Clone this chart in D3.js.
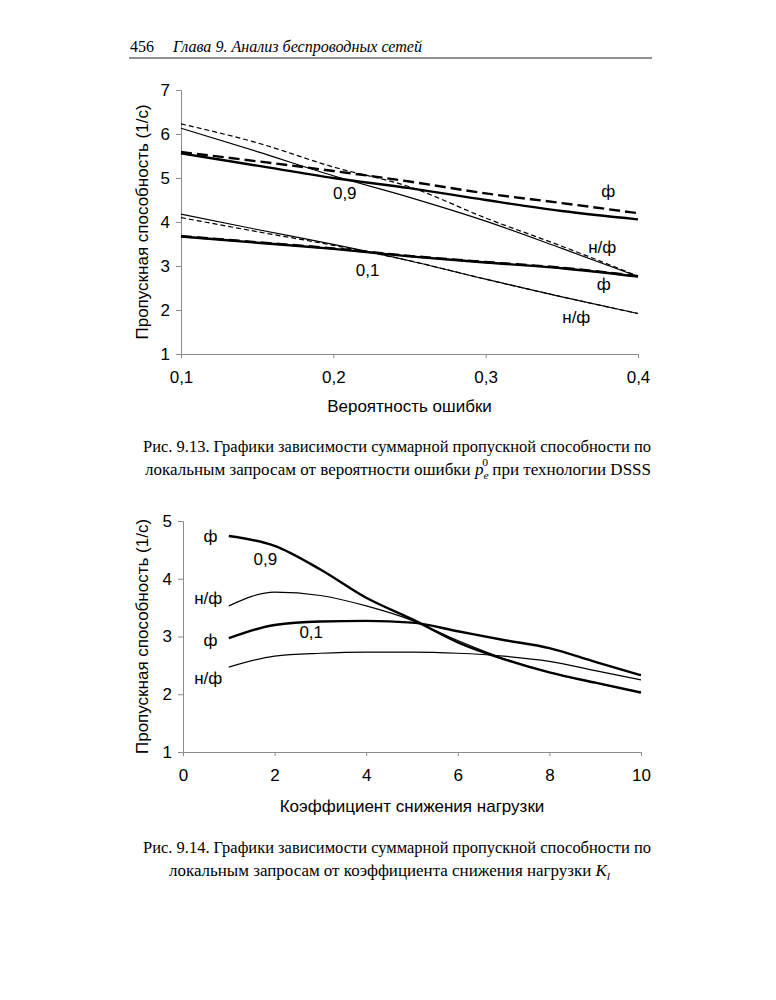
<!DOCTYPE html>
<html><head><meta charset="utf-8">
<script src="https://cdn.jsdelivr.net/npm/d3@7"></script>
<style>
body{margin:0;background:#fff;}
svg{display:block;}
</style></head>
<body>
<svg id="page" width="776" height="1000"></svg>
<script>
// ---------- Chart 1 data (Рис. 9.13) ----------
const errProb = [0.1, 0.15, 0.2, 0.25, 0.3, 0.35, 0.4];
const f09Solid  = [5.56, 5.28, 5.00, 4.77, 4.50, 4.25, 4.06];
const f09Dash   = [5.59, 5.38, 5.16, 4.92, 4.65, 4.43, 4.20];
const nf09Solid = [6.13, 5.60, 5.05, 4.56, 4.02, 3.40, 2.76];
const nf09Dash  = [6.23, 5.80, 5.25, 4.80, 4.09, 3.45, 2.77];
const f01Solid  = [3.67, 3.53, 3.39, 3.22, 3.08, 2.95, 2.76];
const f01Dash   = [3.68, 3.54, 3.40, 3.23, 3.09, 2.96, 2.77];
const nf01Solid = [4.18, 3.83, 3.49, 3.12, 2.70, 2.30, 1.92];
const nf01Dash  = [4.10, 3.78, 3.47, 3.12, 2.70, 2.30, 1.92];
const xTicks1 = [0.1, 0.2, 0.3, 0.4];
const yTicks1 = [1, 2, 3, 4, 5, 6, 7];

// ---------- Chart 2 data (Рис. 9.14) ----------
const loadK = [1, 2, 3, 4, 5, 6, 7, 8, 9, 10];
const f09K  = [4.74, 4.57, 4.16, 3.67, 3.30, 2.90, 2.61, 2.38, 2.20, 2.03];
const nf09K = [3.53, 3.77, 3.71, 3.53, 3.28, 2.93, 2.62, 2.38, 2.20, 2.03];
const f01K  = [2.97, 3.20, 3.26, 3.27, 3.24, 3.09, 2.94, 2.80, 2.56, 2.33];
const nf01K = [2.47, 2.66, 2.71, 2.73, 2.73, 2.71, 2.66, 2.57, 2.41, 2.25];
const xTicks2 = [0, 2, 4, 6, 8, 10];
const yTicks2 = [1, 2, 3, 4, 5];

// ---------- texts ----------
const pageNum = "456";
const headerText = "Глава 9.  Анализ беспроводных сетей";
const yTitle = "Пропускная способность (1/с)";
const xTitle1 = "Вероятность ошибки";
const xTitle2 = "Коэффициент снижения нагрузки";

const svg = d3.select("#page");
const SANS = "'Liberation Sans', Arial, sans-serif";
const SERIF = "'Liberation Serif', 'Times New Roman', serif";
const comma = d => String(d).replace(".", ",");

// header
svg.append("text").attr("x", 130).attr("y", 52).attr("font-family", SERIF)
  .attr("font-size", 16).text(pageNum);
svg.append("text").attr("x", 173).attr("y", 52).attr("font-family", SERIF)
  .attr("font-style", "italic").attr("font-size", 16)
  .attr("textLength", 249).attr("lengthAdjust", "spacingAndGlyphs").text(headerText);
svg.append("line").attr("x1", 129).attr("x2", 652).attr("y1", 58).attr("y2", 58)
  .attr("stroke", "#222").attr("stroke-width", 1.2);

function drawChart(cfg) {
  const g = svg.append("g");
  const x = d3.scaleLinear().domain(cfg.xDomain).range(cfg.xRange);
  const y = d3.scaleLinear().domain(cfg.yDomain).range(cfg.yRange);

  const yAx = g.append("g").attr("transform", `translate(${cfg.xRange[0]},0)`)
    .call(d3.axisLeft(y).tickValues(cfg.yTicks).tickSize(5).tickPadding(6).tickFormat(d => d));
  const xAx = g.append("g").attr("transform", `translate(0,${cfg.yRange[0]})`)
    .call(d3.axisBottom(x).tickValues(cfg.xTicks).tickSize(4).tickPadding(13).tickFormat(cfg.xFmt));
  [yAx, xAx].forEach(a => {
    a.select(".domain").attr("stroke", "#8a8a8a").attr("stroke-width", 1);
    a.selectAll(".tick line").attr("stroke", "#8a8a8a");
    a.selectAll(".tick text").attr("font-family", SANS).attr("font-size", 17).attr("fill", "#000");
  });
  xAx.selectAll(".tick").filter(d => d === cfg.xTicks[0]).select("line").remove();

  g.append("text").attr("x", d3.mean(cfg.xRange)).attr("y", cfg.xTitleY)
    .attr("text-anchor", "middle").attr("font-family", SANS).attr("font-size", 17).text(cfg.xTitle);
  g.append("text").attr("transform", `translate(${cfg.yTitleX},${d3.mean(cfg.yRange)}) rotate(-90)`)
    .attr("text-anchor", "middle").attr("font-family", SANS).attr("font-size", 17).text(yTitle);

  const line = d3.line().x(d => x(d[0])).y(d => y(d[1])).curve(d3.curveMonotoneX);
  cfg.series.forEach(s => {
    g.append("path").datum(cfg.xs.map((v, i) => [v, s.values[i]]))
      .attr("d", line).attr("fill", "none").attr("stroke", "#000")
      .attr("stroke-width", s.w).attr("stroke-dasharray", s.dash || null)
      .attr("stroke-linejoin", "round");
  });
  cfg.labels.forEach(l => {
    g.append("text").attr("x", x(l.x)).attr("y", y(l.y)).attr("text-anchor", "middle")
      .attr("font-family", SANS).attr("font-size", 17).text(l.t);
  });
}

drawChart({
  xDomain: [0.1, 0.4], xRange: [181, 638],
  yDomain: [1, 7], yRange: [354, 90],
  xTicks: xTicks1, yTicks: yTicks1, xFmt: d => comma(d.toFixed(1)),
  xs: errProb,
  xTitle: xTitle1, xTitleY: 412, yTitleX: 148,
  series: [
    {values: f09Solid, w: 2.4},
    {values: f09Dash, w: 2.4, dash: "11,5"},
    {values: nf09Solid, w: 1.2},
    {values: nf09Dash, w: 1.2, dash: "5,3"},
    {values: f01Solid, w: 2.4},
    {values: f01Dash, w: 2.4, dash: "11,5"},
    {values: nf01Solid, w: 1.2},
    {values: nf01Dash, w: 1.2, dash: "5,3"}
  ],
  labels: [
    {t: "0,9", x: 0.2075, y: 4.52},
    {t: "0,1", x: 0.2225, y: 2.78},
    {t: "ф", x: 0.3805, y: 4.57},
    {t: "н/ф", x: 0.3765, y: 3.3},
    {t: "ф", x: 0.3775, y: 2.46},
    {t: "н/ф", x: 0.3595, y: 1.7}
  ]
});

drawChart({
  xDomain: [0, 10], xRange: [183, 641],
  yDomain: [1, 5], yRange: [752, 521],
  xTicks: xTicks2, yTicks: yTicks2, xFmt: d => d,
  xs: loadK,
  xTitle: xTitle2, xTitleY: 812, yTitleX: 148,
  series: [
    {values: f09K, w: 2.4},
    {values: nf09K, w: 1.2},
    {values: f01K, w: 2.4},
    {values: nf01K, w: 1.2}
  ],
  labels: [
    {t: "ф", x: 0.6, y: 4.63},
    {t: "0,9", x: 1.8, y: 4.23},
    {t: "н/ф", x: 0.55, y: 3.57},
    {t: "ф", x: 0.6, y: 2.83},
    {t: "0,1", x: 2.8, y: 2.97},
    {t: "н/ф", x: 0.55, y: 2.17}
  ]
});

// captions
function capLine(x0, x1, y, parts) {
  const t = svg.append("text").attr("x", x0).attr("y", y)
    .attr("font-family", SERIF).attr("font-size", 16)
    .attr("textLength", x1 - x0).attr("lengthAdjust", "spacingAndGlyphs");
  parts.forEach(p => {
    const ts = t.append("tspan").text(p.t);
    if (p.it) ts.attr("font-style", "italic");
    if (p.size) ts.attr("font-size", p.size);
    if (p.dy) ts.attr("dy", p.dy);
    if (p.dx) ts.attr("dx", p.dx);
  });
}
capLine(143, 651, 452, [{t: "Рис. 9.13. Графики зависимости суммарной пропускной способности по"}]);
capLine(145, 651, 475, [
  {t: "локальным запросам от вероятности ошибки "},
  {t: "p", it: true},
  {t: "e", it: true, size: 11, dy: 4},
  {t: "0", size: 11, dy: -13, dx: -6},
  {t: " при технологии DSSS", dy: 9}
]);
capLine(143, 651, 853, [{t: "Рис. 9.14. Графики зависимости суммарной пропускной способности по"}]);
capLine(169, 610, 876, [
  {t: "локальным запросам от коэффициента снижения нагрузки "},
  {t: "K", it: true},
  {t: "l", it: true, size: 11, dy: 4}
]);
</script>
</body></html>
